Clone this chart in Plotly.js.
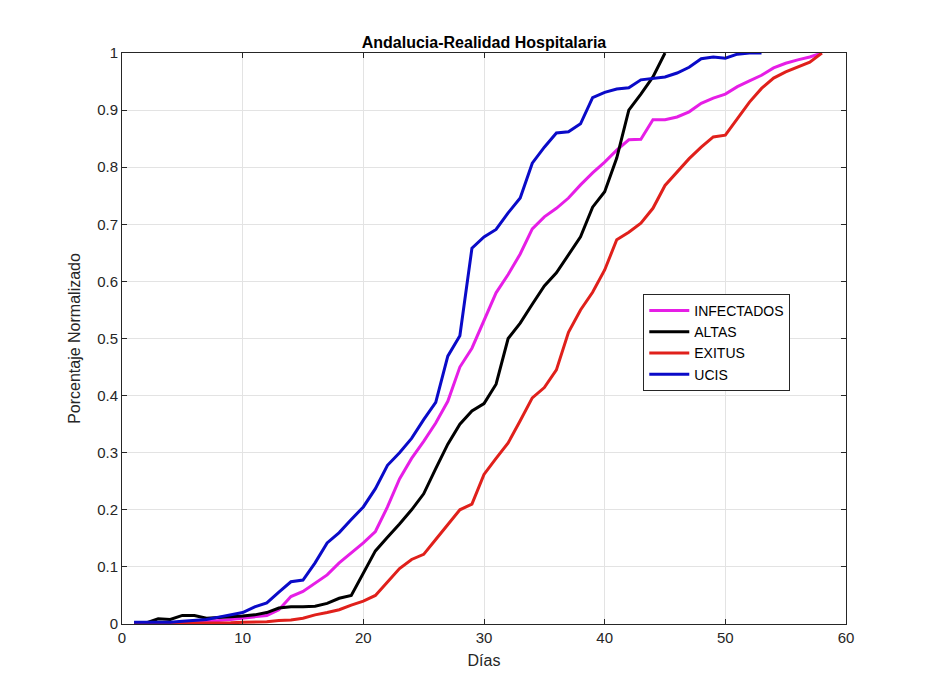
<!DOCTYPE html>
<html>
<head>
<meta charset="utf-8">
<script src="https://cdn.plot.ly/plotly-3.0.1.min.js"></script>
<style>
html,body{margin:0;padding:0;background:#fff;}
#chart{width:934px;height:700px;}
</style>
</head>
<body>
<div id="chart"></div>
<script>
const dias = [1,2,3,4,5,6,7,8,9,10,11,12,13,14,15,16,17,18,19,20,21,22,23,24,25,26,27,28,29,30,
  31,32,33,34,35,36,37,38,39,40,41,42,43,44,45,46,47,48,49,50,51,52,53,54,55,56,57,58];

const infectados = [0.001,0.001,0.001,0.002,0.002,0.003,0.004,0.006,0.008,0.010,
  0.012,0.015,0.025,0.048,0.057,0.071,0.086,0.107,0.124,0.142,
  0.162,0.205,0.254,0.290,0.320,0.352,0.390,0.450,0.483,0.532,
  0.580,0.612,0.648,0.692,0.713,0.728,0.746,0.769,0.790,0.809,
  0.830,0.848,0.849,0.883,0.883,0.888,0.897,0.912,0.921,0.928,
  0.941,0.951,0.961,0.974,0.982,0.988,0.993,1.000];

const altas = [0.002,0.002,0.009,0.008,0.015,0.015,0.010,0.011,0.013,0.014,
  0.016,0.020,0.028,0.030,0.030,0.031,0.036,0.045,0.050,0.089,
  0.128,0.152,0.175,0.200,0.228,0.272,0.315,0.350,0.373,0.386,
  0.420,0.500,0.527,0.560,0.592,0.615,0.646,0.678,0.730,0.757,
  0.816,0.900,0.928,0.958,1.000];

const exitus = [0.001,0.001,0.001,0.001,0.001,0.001,0.002,0.002,0.002,0.003,
  0.003,0.004,0.006,0.007,0.010,0.016,0.020,0.025,0.033,0.040,
  0.050,0.074,0.097,0.113,0.122,0.148,0.175,0.200,0.210,0.262,
  0.290,0.317,0.356,0.396,0.414,0.445,0.511,0.550,0.581,0.620,
  0.673,0.686,0.702,0.728,0.768,0.792,0.815,0.835,0.853,0.856,
  0.886,0.914,0.938,0.956,0.967,0.976,0.984,1.000];

const ucis = [0.003,0.003,0.003,0.003,0.005,0.006,0.008,0.012,0.016,0.020,
  0.030,0.037,0.056,0.074,0.077,0.107,0.142,0.160,0.183,0.205,
  0.237,0.278,0.300,0.325,0.358,0.388,0.469,0.505,0.658,0.678,
  0.691,0.720,0.746,0.807,0.835,0.860,0.862,0.876,0.922,0.931,
  0.937,0.939,0.953,0.956,0.958,0.965,0.975,0.990,0.993,0.991,
  0.998,1.000,1.000];

const xTicks = [0,10,20,30,40,50,60];
const yTicks = [0,0.1,0.2,0.3,0.4,0.5,0.6,0.7,0.8,0.9,1];
const yTickText = ['0','0.1','0.2','0.3','0.4','0.5','0.6','0.7','0.8','0.9','1'];

const series = [
  {name:'INFECTADOS', y:infectados, color:'#e61ee6'},
  {name:'ALTAS', y:altas, color:'#000000'},
  {name:'EXITUS', y:exitus, color:'#e0201b'},
  {name:'UCIS', y:ucis, color:'#0a0ac8'}
];

const traces = series.map(s => ({
  x: dias.slice(0, s.y.length),
  y: s.y,
  name: s.name,
  type: 'scatter',
  mode: 'lines',
  line: {color: s.color, width: 3}
}));

const font = 'Liberation Sans, Arial, Helvetica, sans-serif';

const axisCommon = {
  showline: true,
  linecolor: '#262626',
  linewidth: 1,
  mirror: 'ticks',
  ticks: 'inside',
  ticklen: 5,
  tickcolor: '#262626',
  showgrid: true,
  gridcolor: '#e3e3e3',
  gridwidth: 1,
  zeroline: false,
  tickfont: {family: font, size: 15, color: '#262626'}
};

const layout = {
  width: 934,
  height: 700,
  paper_bgcolor: '#ffffff',
  plot_bgcolor: '#ffffff',
  margin: {l: 122, r: 88, t: 53, b: 76},
  title: {
    text: '<b>Andalucia-Realidad Hospitalaria</b>',
    font: {family: font, size: 16, color: '#000'},
    x: 0.5, xref: 'paper', xanchor: 'center',
    y: 1, yref: 'paper', yanchor: 'bottom', pad: {b: 5}
  },
  xaxis: Object.assign({}, axisCommon, {
    range: [0, 60],
    tickvals: xTicks,
    ticktext: xTicks.map(String),
    title: {text: 'Días', font: {family: font, size: 16, color: '#262626'}, standoff: 9}
  }),
  yaxis: Object.assign({}, axisCommon, {
    range: [0, 1],
    tickvals: yTicks,
    ticktext: yTickText,
    title: {text: 'Porcentaje Normalizado', font: {family: font, size: 16, color: '#262626'}, standoff: 12}
  }),
  showlegend: true,
  legend: {
    x: 0.72, y: 0.578, xanchor: 'left', yanchor: 'top',
    bgcolor: '#ffffff',
    bordercolor: '#262626',
    borderwidth: 1,
    font: {family: font, size: 14, color: '#000'},
    tracegroupgap: 0,
    itemwidth: 40
  }
};

Plotly.newPlot('chart', traces, layout, {displayModeBar: false, staticPlot: true});
</script>
</body>
</html>
